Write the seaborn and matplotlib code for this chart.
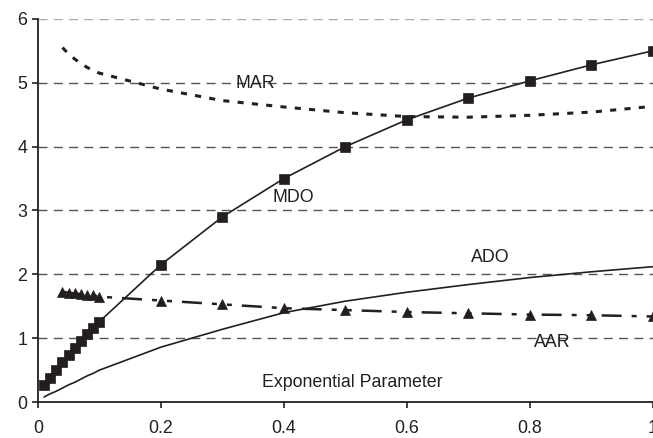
import numpy as np
import pandas as pd
import matplotlib
matplotlib.use("Agg")
import matplotlib.pyplot as plt
import seaborn as sns

# ── data ──
x_fine = [0.01, 0.02, 0.03, 0.04, 0.05, 0.06, 0.07, 0.08, 0.09, 0.10]
x_coarse = [0.2, 0.3, 0.4, 0.5, 0.6, 0.7, 0.8, 0.9, 1.0]

mdo = [0.27, 0.38, 0.50, 0.62, 0.74, 0.85, 0.96, 1.06, 1.16, 1.26,
       2.15, 2.90, 3.50, 4.00, 4.42, 4.76, 5.03, 5.28, 5.50]
ado = [0.08, 0.13, 0.17, 0.22, 0.27, 0.31, 0.36, 0.41, 0.45, 0.50,
       0.86, 1.14, 1.40, 1.58, 1.72, 1.84, 1.95, 2.04, 2.12]
mar_x = [0.04, 0.05, 0.06, 0.07, 0.08, 0.09, 0.10]
mar = [5.55, 5.45, 5.37, 5.30, 5.24, 5.19, 5.15,
       4.90, 4.72, 4.62, 4.53, 4.47, 4.46, 4.49, 4.54, 4.63]
aar = [1.73, 1.71, 1.70, 1.69, 1.68, 1.67, 1.65,
       1.59, 1.53, 1.47, 1.44, 1.41, 1.39, 1.37, 1.36, 1.34]

labels = {"MAR": (0.353, 4.98), "MDO": (0.415, 3.2), "ADO": (0.735, 2.26),
          "AAR": (0.837, 0.94)}
xlabel = "Exponential Parameter"

ink = "#231f20"

sns.set_theme(style="ticks")
plt.rcParams["font.family"] = ["Liberation Sans", "DejaVu Sans"]

fig = plt.figure(figsize=(6.53, 4.38), dpi=100)
ax = fig.add_axes([0.058, 0.082, 0.942, 0.875])

x_all = x_fine + x_coarse
x_ar = mar_x + x_coarse

# grid lines
for yv in range(1, 7):
    ax.axhline(yv, color="#aaaaaa" if yv == 6 else "#555555", lw=1.0,
               linestyle=(0, (6.5, 4.5)), zorder=0)

sns.lineplot(x=x_ar, y=mar, ax=ax, color=ink, lw=2.2,
             linestyle=(0, (2, 2.7)), sort=False)
sns.lineplot(x=x_all, y=ado, ax=ax, color=ink, lw=1.2, sort=False)
sns.lineplot(x=x_all, y=mdo, ax=ax, color=ink, lw=1.2, marker="s",
             markersize=7.3, markeredgecolor=ink, markeredgewidth=0.5, sort=False)
sns.lineplot(x=x_ar, y=aar, ax=ax, color=ink, lw=1.8, marker="^",
             markersize=7.3, markeredgecolor=ink, markeredgewidth=0.5,
             linestyle=(0, (8, 4, 2, 4, 2, 4)), sort=False)

for name, (tx, ty) in labels.items():
    ax.text(tx, ty, name, fontsize=12.8, color=ink, ha="center", va="center")
ax.text(0.511, 0.30, xlabel, fontsize=12.8, color=ink, ha="center", va="center")

ax.set_xlim(0, 1.0)
ax.set_ylim(0, 6)
ax.set_xticks([0, 0.2, 0.4, 0.6, 0.8, 1.0])
ax.set_xticklabels(["0", "0.2", "0.4", "0.6", "0.8", "1"])
ax.set_yticks(range(0, 7))
ax.tick_params(axis="both", labelsize=12.8, colors=ink, length=4, width=1.2)
ax.tick_params(axis="x", pad=9)
for s in ["top", "right"]:
    ax.spines[s].set_visible(False)
for s in ["left", "bottom"]:
    ax.spines[s].set_color(ink)
    ax.spines[s].set_linewidth(1.3)
ax.set_xlabel("")
ax.set_ylabel("")
ax.set_facecolor("white")

fig.savefig("out.png", dpi=100)
